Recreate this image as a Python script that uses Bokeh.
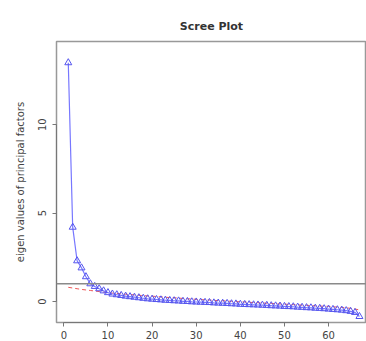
from bokeh.plotting import figure
from bokeh.models import Range1d, FixedTicker, Span
from bokeh.embed import file_html
from bokeh.resources import INLINE

factor_number = list(range(1, 68))

eigen_actual = [
    13.5, 4.2, 2.3, 1.9, 1.4, 1.0, 0.85, 0.72, 0.60, 0.50,
    0.42, 0.38, 0.34, 0.30, 0.27, 0.24, 0.21, 0.18, 0.15, 0.13,
    0.11, 0.09, 0.07, 0.06, 0.04, 0.03, 0.01, 0.00, -0.02, -0.03,
    -0.04, -0.05, -0.06, -0.08, -0.09, -0.10, -0.11, -0.13, -0.14, -0.16,
    -0.17, -0.18, -0.19, -0.20, -0.21, -0.22, -0.24, -0.25, -0.26, -0.28,
    -0.29, -0.30, -0.32, -0.33, -0.35, -0.36, -0.38, -0.39, -0.41, -0.43,
    -0.45, -0.47, -0.49, -0.52, -0.56, -0.62, -0.85,
]

eigen_simulated = [
    0.80, 0.76, 0.72, 0.68, 0.65, 0.62, 0.59, 0.56, 0.53, 0.50,
    0.47, 0.45, 0.43, 0.41, 0.39, 0.37, 0.35, 0.33, 0.31, 0.30,
    0.28, 0.26, 0.24, 0.22, 0.21, 0.19, 0.17, 0.15, 0.14, 0.12,
    0.11, 0.09, 0.08, 0.06, 0.05, 0.04, 0.02, 0.01, -0.01, -0.02,
    -0.03, -0.05, -0.06, -0.07, -0.09, -0.10, -0.11, -0.13, -0.14, -0.15,
    -0.17, -0.18, -0.19, -0.21, -0.22, -0.23, -0.25, -0.26, -0.27, -0.28,
    -0.30, -0.32, -0.34, -0.36, -0.39, -0.43, -0.48,
]

x_ticks = [0, 10, 20, 30, 40, 50, 60]
y_ticks = [0, 5, 10]
kaiser_line = 1.0

FONT = "DejaVu Sans"

p = figure(
    width=366, height=341,
    x_range=Range1d(-1.67, 68.6), y_range=Range1d(-1.19, 14.7),
    title="Scree Plot",
    output_backend="svg", toolbar_location=None,
    min_border_left=56, min_border_right=0, min_border_top=41, min_border_bottom=5,
)
p.title.align = "center"
p.title.text_font = FONT
p.title.text_font_size = "11px"
p.title.text_font_style = "bold"
p.title.text_color = "#333333"
p.title.offset = 0
p.title.standoff = 17

p.grid.visible = False
p.outline_line_color = "#999999"
p.outline_line_width = 1.5
p.background_fill_color = "white"
p.border_fill_color = "white"

for ax in (p.xaxis[0], p.yaxis[0]):
    ax.axis_line_color = "#777777"
    ax.major_tick_line_color = "#777777"
    ax.minor_tick_line_color = None
    ax.major_tick_in = 0
    ax.major_tick_out = 4
    ax.major_label_text_font = FONT
    ax.major_label_text_font_size = "10px"
    ax.major_label_text_color = "#444444"

p.xaxis[0].ticker = FixedTicker(ticks=x_ticks)
p.xaxis[0].bounds = (0, 60)
p.xaxis[0].major_label_standoff = 4
p.yaxis[0].ticker = FixedTicker(ticks=y_ticks)
p.yaxis[0].bounds = (0, 10)
p.yaxis[0].major_label_orientation = "vertical"
p.yaxis[0].major_label_standoff = 6
p.yaxis[0].axis_label = "eigen values of principal factors"
p.yaxis[0].axis_label_text_font = FONT
p.yaxis[0].axis_label_text_font_size = "10px"
p.yaxis[0].axis_label_text_font_style = "normal"
p.yaxis[0].axis_label_text_color = "#444444"
p.yaxis[0].axis_label_standoff = 10

p.add_layout(Span(location=kaiser_line, dimension="width", line_color="#8a8a8a", line_width=1.5))

p.line(factor_number, eigen_simulated, line_color="#ee5555", line_dash="4 3", line_width=1)
p.line(factor_number, eigen_actual, line_color="#7777ff", line_width=1.2)
p.scatter(factor_number, eigen_actual, marker="triangle", size=7,
          line_color="#5555ee", fill_color=None, line_width=1)

open("out.html", "w").write(file_html(p, INLINE))
